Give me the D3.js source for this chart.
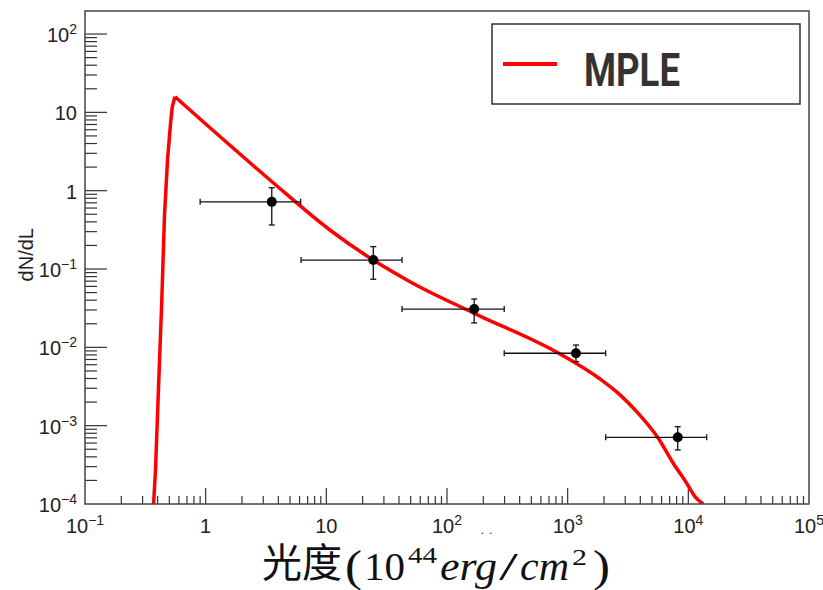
<!DOCTYPE html>
<html>
<head>
<meta charset="utf-8">
<script src="https://cdn.jsdelivr.net/npm/d3@7"></script>
<style>
  body { margin: 0; background: #fff; }
  svg { display: block; }
</style>
</head>
<body>
<div id="chart"></div>
<script>
// MPLE curve (luminosity, dN/dL); rising edge up to the peak, then the falling part
const mpleL = [0.370, 0.384, 0.406, 0.431, 0.456, 0.483, 0.512, 0.529, 0.557,
  3.41, 10.7, 24.5, 49.3, 168, 863, 1854, 2716, 3733, 5636, 7499, 9689, 11350, 13300];
const mpleN = [1e-4, 2.72e-4, 2.85e-3, 0.0327, 0.49, 2.47, 7.31, 11.8, 15.8,
  1.37, 0.315, 0.130, 0.0689, 0.0272, 0.00822, 0.00394, 0.00247, 0.00151, 6.9e-4, 3.31e-4, 1.84e-4, 1.24e-4, 1e-4];
const peakIndex = 8;

// binned data points with errors
const ptL   = [3.53, 24.5, 168, 1172, 8165];
const ptLlo = [0.90, 6.17, 42.4, 298, 2065];
const ptLhi = [6.13, 42.4, 298, 2065, 14200];
const ptN   = [0.72, 0.130, 0.0308, 0.0084, 7.1e-4];
const ptNlo = [0.365, 0.074, 0.0205, 0.00656, 4.9e-4];
const ptNhi = [1.09, 0.193, 0.0414, 0.0107, 9.7e-4];

const xTicks = [-1, 0, 1, 2, 3, 4, 5];
const yTicks = [-4, -3, -2, -1, 0, 1, 2];
const legendLabel = "MPLE";
const yTitle = "dN/dL";

const W = 823, H = 590;
const frame = { left: 85, right: 809, top: 11, bottom: 504 };

const svg = d3.select("#chart").append("svg")
    .attr("width", W)
    .attr("height", H)
    .attr("font-family", "'Liberation Sans', Arial, sans-serif");

const x = d3.scaleLog().domain([1e-1, 1e5]).range([frame.left, frame.right]);
const y = d3.scaleLog().domain([1e-4, Math.pow(10, 2.294)]).range([frame.bottom, frame.top]);

svg.append("clipPath").attr("id", "frameclip")
  .append("rect")
    .attr("x", frame.left).attr("y", frame.top)
    .attr("width", frame.right - frame.left).attr("height", frame.bottom - frame.top);

// minor + major ticks
const minorX = [];
for (let e = -1; e < 5; e++) for (let m = 2; m <= 9; m++) minorX.push(m * Math.pow(10, e));
const minorY = [];
for (let e = -4; e < 3; e++) for (let m = 2; m <= 9; m++) {
  const v = m * Math.pow(10, e);
  if (v < y.domain()[1]) minorY.push(v);
}

const ticks = svg.append("g").attr("stroke", "#333").attr("stroke-width", 1.2);
ticks.append("g").selectAll("line").data(minorX).join("line")
    .attr("x1", d => x(d)).attr("x2", d => x(d))
    .attr("y1", frame.bottom).attr("y2", frame.bottom - 8);
ticks.append("g").selectAll("line").data(xTicks.slice(1, -1)).join("line")
    .attr("x1", d => x(Math.pow(10, d))).attr("x2", d => x(Math.pow(10, d)))
    .attr("y1", frame.bottom).attr("y2", frame.bottom - 16);
ticks.append("g").selectAll("line").data(minorY).join("line")
    .attr("x1", frame.left).attr("x2", frame.left + 12)
    .attr("y1", d => y(d)).attr("y2", d => y(d));
ticks.append("g").selectAll("line").data(yTicks.slice(1)).join("line")
    .attr("x1", frame.left).attr("x2", frame.left + 22)
    .attr("y1", d => y(Math.pow(10, d))).attr("y2", d => y(Math.pow(10, d)));

// tick label helper: 1, 10, or 10^n
function tickLabel(sel, e) {
  if (e === 0) sel.text("1");
  else if (e === 1) sel.text("10");
  else {
    sel.append("tspan").text("10");
    sel.append("tspan").attr("font-size", 14).attr("dy", -8)
        .text(e < 0 ? "\u2212" + (-e) : String(e));
  }
}

const labelColor = "#222";
svg.append("g").selectAll("text").data(xTicks).join("text")
    .attr("x", d => x(Math.pow(10, d)))
    .attr("y", 533)
    .attr("text-anchor", "middle")
    .attr("font-size", 20)
    .attr("fill", labelColor)
    .each(function(d) { tickLabel(d3.select(this), d); });

svg.append("g").selectAll("text").data(yTicks).join("text")
    .attr("x", 77)
    .attr("y", d => y(Math.pow(10, d)) + 8)
    .attr("text-anchor", "end")
    .attr("font-size", 20)
    .attr("fill", labelColor)
    .each(function(d) { tickLabel(d3.select(this), d); });

// leftover marks below the axis
svg.append("text")
    .attr("x", 489).attr("y", 534)
    .attr("text-anchor", "middle")
    .attr("font-size", 13)
    .attr("letter-spacing", 5)
    .attr("fill", "#333")
    .text("..");

// y title
svg.append("text")
    .attr("transform", "translate(33,228) rotate(-90)")
    .attr("text-anchor", "end")
    .attr("font-size", 20)
    .attr("fill", labelColor)
    .text(yTitle);

// curve: straight rise, smooth fall
const curve = mpleL.map((d, i) => [d, mpleN[i]]);
const rise = d3.line().x(d => x(d[0])).y(d => y(d[1]));
const fall = d3.line().x(d => x(d[0])).y(d => y(d[1])).curve(d3.curveMonotoneX);
const curveG = svg.append("g")
    .attr("clip-path", "url(#frameclip)")
    .attr("fill", "none")
    .attr("stroke", "#ff0000")
    .attr("stroke-width", 3.5)
    .attr("stroke-linejoin", "round");
curveG.append("path").attr("d", rise(curve.slice(0, peakIndex + 1)));
curveG.append("path").attr("d", fall(curve.slice(peakIndex)));

// data points with error bars
const pts = ptL.map((d, i) => ({ L: d, N: ptN[i], Llo: ptLlo[i], Lhi: ptLhi[i], Nlo: ptNlo[i], Nhi: ptNhi[i] }));
const pg = svg.append("g").selectAll("g").data(pts).join("g")
    .attr("stroke", "#111").attr("stroke-width", 1.3);
pg.append("line")
    .attr("x1", d => x(d.Llo)).attr("x2", d => x(d.Lhi))
    .attr("y1", d => y(d.N)).attr("y2", d => y(d.N));
pg.append("line")
    .attr("x1", d => x(d.L)).attr("x2", d => x(d.L))
    .attr("y1", d => y(d.Nlo)).attr("y2", d => y(d.Nhi));
["Llo", "Lhi"].forEach(k => {
  pg.append("line")
      .attr("x1", d => x(d[k])).attr("x2", d => x(d[k]))
      .attr("y1", d => y(d.N) - 3).attr("y2", d => y(d.N) + 3);
});
["Nlo", "Nhi"].forEach(k => {
  pg.append("line")
      .attr("x1", d => x(d.L) - 3).attr("x2", d => x(d.L) + 3)
      .attr("y1", d => y(d[k])).attr("y2", d => y(d[k]));
});
pg.append("circle")
    .attr("cx", d => x(d.L)).attr("cy", d => y(d.N))
    .attr("r", 5)
    .attr("fill", "#000").attr("stroke", "none");

// frame
svg.append("rect")
    .attr("x", frame.left).attr("y", frame.top)
    .attr("width", frame.right - frame.left).attr("height", frame.bottom - frame.top)
    .attr("fill", "none")
    .attr("stroke", "#444")
    .attr("stroke-width", 1.5);

// legend
const lg = svg.append("g");
lg.append("rect")
    .attr("x", 492).attr("y", 24).attr("width", 308).attr("height", 80)
    .attr("fill", "#fff").attr("stroke", "#333").attr("stroke-width", 1.5);
lg.append("line")
    .attr("x1", 503).attr("x2", 557).attr("y1", 64).attr("y2", 64)
    .attr("stroke", "#ff0000").attr("stroke-width", 4);
lg.append("text")
    .attr("x", 584).attr("y", 86)
    .attr("font-family", "Roboto, 'DejaVu Sans', sans-serif")
    .attr("font-weight", "bold")
    .attr("font-size", 46)
    .attr("textLength", 96)
    .attr("lengthAdjust", "spacingAndGlyphs")
    .attr("fill", "#333")
    .text(legendLabel);

// x title: 光度(10^44 erg/cm^2)
const xt = svg.append("g").attr("fill", "#111");
const serif = "'Liberation Serif', 'DejaVu Serif', serif";
xt.append("text").attr("x", 262).attr("y", 577)
    .attr("font-family", "'Noto Sans CJK SC', sans-serif").attr("font-size", 40)
    .text("光度");
xt.append("text").attr("x", 345).attr("y", 581)
    .attr("font-family", serif).attr("font-size", 44)
    .attr("textLength", 17).attr("lengthAdjust", "spacingAndGlyphs").text("(");
xt.append("text").attr("x", 364).attr("y", 580)
    .attr("font-family", serif).attr("font-size", 40)
    .attr("textLength", 41).attr("lengthAdjust", "spacingAndGlyphs").text("10");
xt.append("text").attr("x", 408).attr("y", 563)
    .attr("font-family", serif).attr("font-size", 23)
    .attr("textLength", 29).attr("lengthAdjust", "spacingAndGlyphs").text("44");
xt.append("text").attr("x", 440).attr("y", 580)
    .attr("font-family", serif).attr("font-style", "italic").attr("font-size", 40)
    .attr("textLength", 57).attr("lengthAdjust", "spacingAndGlyphs").text("erg");
xt.append("text").attr("x", 499).attr("y", 580)
    .attr("font-family", serif).attr("font-size", 40)
    .attr("textLength", 19).attr("lengthAdjust", "spacingAndGlyphs").text("/");
xt.append("text").attr("x", 520).attr("y", 580)
    .attr("font-family", serif).attr("font-style", "italic").attr("font-size", 40)
    .attr("textLength", 49).attr("lengthAdjust", "spacingAndGlyphs").text("cm");
xt.append("text").attr("x", 572).attr("y", 565)
    .attr("font-family", serif).attr("font-size", 23)
    .attr("textLength", 15).attr("lengthAdjust", "spacingAndGlyphs").text("2");
xt.append("text").attr("x", 593).attr("y", 581)
    .attr("font-family", serif).attr("font-size", 44)
    .attr("textLength", 17).attr("lengthAdjust", "spacingAndGlyphs").text(")");
</script>
</body>
</html>
